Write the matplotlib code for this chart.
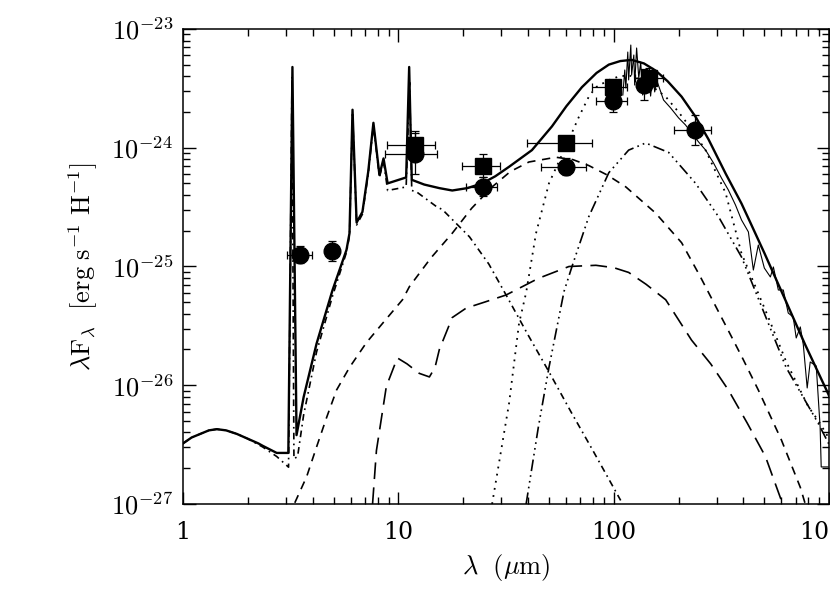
import matplotlib
matplotlib.use("Agg")
import matplotlib.pyplot as plt
import numpy as np

plt.rcParams['mathtext.fontset'] = 'cm'
plt.rcParams['font.family'] = 'serif'
plt.rcParams['font.serif'] = ['DejaVu Serif']

# all curves: log10(wavelength / um), log10(lambda F_lambda)
# total model (thick solid)
tot_lx = [0.0, 0.04, 0.08, 0.12, 0.157, 0.2, 0.25, 0.3, 0.35, 0.37, 0.435, 0.489, 0.508, 0.527,
          0.56, 0.62, 0.694, 0.759, 0.773, 0.787, 0.806, 0.833, 0.86, 0.884, 0.912, 0.931, 0.950,
          1.036, 1.050, 1.062, 1.12, 1.19, 1.25, 1.32, 1.389, 1.45, 1.514, 1.62, 1.713, 1.78,
          1.852, 1.92, 1.977, 2.03, 2.083, 2.14, 2.194, 2.25, 2.315, 2.38, 2.44, 2.52, 2.593,
          2.634, 2.70, 2.796, 2.889, 2.995, 3.05]
tot_ly = [-26.49, -26.44, -26.41, -26.38, -26.37, -26.38, -26.41, -26.45, -26.49, -26.51, -26.57,
          -26.57, -23.32, -26.42, -26.10, -25.65, -25.20, -24.86, -24.72, -23.68, -24.63, -24.54,
          -24.20, -23.79, -24.23, -24.09, -24.30, -24.25, -23.32, -24.27, -24.31, -24.34, -24.36,
          -24.34, -24.30, -24.24, -24.16, -24.02, -23.82, -23.65, -23.49, -23.37, -23.30, -23.27,
          -23.26, -23.29, -23.35, -23.44, -23.57, -23.74, -23.93, -24.22, -24.47, -24.63, -24.89,
          -25.28, -25.66, -26.07, -26.30]

# stars + small grains (dash-dot)
sg_lx = [0.0, 0.04, 0.08, 0.12, 0.157, 0.2, 0.25, 0.3, 0.35, 0.37, 0.435, 0.490, 0.506, 0.515,
         0.532, 0.56, 0.62, 0.694, 0.759, 0.773, 0.787, 0.806, 0.833, 0.86, 0.884, 0.912, 0.931,
         0.950, 1.036, 1.052, 1.062, 1.083, 1.18, 1.204, 1.33, 1.42, 1.5, 1.6, 1.7, 1.8, 1.9, 2.032]
sg_ly = [-26.49, -26.44, -26.41, -26.38, -26.37, -26.38, -26.41, -26.45, -26.50, -26.52, -26.60,
         -26.69, -23.40, -26.62, -26.60, -26.25, -25.72, -25.25, -24.88, -24.74, -23.70, -24.65,
         -24.56, -24.22, -23.81, -24.25, -24.11, -24.36, -24.33, -23.45, -24.36, -24.37, -24.50,
         -24.52, -24.75, -24.98, -25.24, -25.57, -25.89, -26.22, -26.54, -26.97]

# short dashed component
sd_lx = [0.519, 0.574, 0.620, 0.667, 0.713, 0.773, 0.852, 0.926, 1.019, 1.051, 1.15, 1.25,
         1.34, 1.435, 1.52, 1.606, 1.731, 1.81, 1.884, 1.97, 2.056, 2.194, 2.315, 2.40, 2.486,
         2.532, 2.60, 2.671, 2.778, 2.866, 2.889]
sd_ly = [-26.99, -26.77, -26.52, -26.27, -26.04, -25.85, -25.64, -25.48, -25.28, -25.17, -24.93,
         -24.72, -24.51, -24.33, -24.20, -24.12, -24.08, -24.10, -24.15, -24.23, -24.33, -24.55,
         -24.80, -25.08, -25.38, -25.54, -25.78, -26.04, -26.46, -26.86, -27.0]

# long dashed component
ld_lx = [0.88, 0.898, 0.944, 0.995, 1.04, 1.097, 1.144, 1.17, 1.19, 1.25, 1.315, 1.4, 1.5,
         1.65, 1.792, 1.917, 2.00, 2.069, 2.15, 2.241, 2.361, 2.45, 2.532, 2.62, 2.704, 2.778]
ld_ly = [-27.0, -26.55, -26.01, -25.77, -25.82, -25.90, -25.93, -25.85, -25.70, -25.43, -25.35,
         -25.30, -25.24, -25.10, -25.00, -24.99, -25.01, -25.05, -25.15, -25.28, -25.62, -25.82,
         -26.04, -26.32, -26.60, -26.97]

# dotted component
dt_lx = [1.435, 1.514, 1.56, 1.593, 1.639, 1.699, 1.792, 1.838, 1.884, 1.917, 1.977, 2.023,
         2.07, 2.13, 2.19, 2.241, 2.301, 2.36, 2.426, 2.519, 2.593, 2.718, 2.80, 2.903, 2.95, 3.0]
dt_ly = [-27.0, -26.15, -25.48, -25.22, -24.72, -24.30, -23.93, -23.74, -23.57, -23.49, -23.43,
         -23.40, -23.39, -23.43, -23.50, -23.57, -23.70, -23.84, -24.02, -24.38, -24.89, -25.43,
         -25.80, -26.18, -26.30, -26.45]

# dash-triple-dot component
dd_lx = [1.593, 1.65, 1.699, 1.769, 1.806, 1.884, 1.977, 2.069, 2.148, 2.255, 2.38, 2.486,
         2.593, 2.70, 2.80, 2.949, 3.0]
dd_ly = [-27.0, -26.35, -25.85, -25.21, -25.00, -24.58, -24.21, -24.02, -23.96, -24.04, -24.30,
         -24.58, -24.92, -25.40, -25.85, -26.32, -26.50]

# observed spectrum (thin solid)
sp_lx = [2.042, 2.051, 2.056, 2.065, 2.069, 2.079, 2.083, 2.093, 2.097, 2.106, 2.116, 2.125,
         2.134, 2.144, 2.153, 2.162, 2.171, 2.181, 2.190, 2.199, 2.231, 2.264, 2.301, 2.333,
         2.361, 2.394, 2.426, 2.463, 2.5, 2.532, 2.565, 2.593, 2.625, 2.648, 2.671, 2.699,
         2.727, 2.741, 2.764, 2.787, 2.81, 2.833, 2.847, 2.866, 2.88, 2.898, 2.912, 2.94,
         2.958, 2.963, 2.995]
sp_ly = [-23.556, -23.345, -23.497, -23.194, -23.429, -23.135, -23.387, -23.219, -23.472, -23.16,
         -23.413, -23.278, -23.556, -23.362, -23.497, -23.387, -23.565, -23.378, -23.53, -23.43,
         -23.598, -23.665, -23.749, -23.808, -23.876, -23.952, -24.019, -24.128, -24.255, -24.356,
         -24.482, -24.608, -24.709, -25.03, -24.819, -25.013, -25.088, -25.004, -25.198, -25.198,
         -25.392, -25.425, -25.602, -25.509, -25.66, -26.023, -25.804, -25.838, -26.352, -26.688,
         -26.688]

# photometry: circles
circ_wl = [3.48, 4.9, 11.9, 24.7, 60, 99, 138, 237]
circ_lf = [-24.90, -24.87, -24.05, -24.33, -24.16, -23.61, -23.47, -23.85]
circ_xlo = [3.03, 4.9, 8.7, 20.6, 45.9, 82.6, 138, 191]
circ_xhi = [3.96, 4.9, 15.1, 28.7, 74, 115, 138, 284]
circ_err = [0.07, 0.085, 0.17, 0.08, 0.07, 0.09, 0.13, 0.125]

# photometry: squares
sq_wl = [11.9, 24.7, 60, 99, 145]
sq_lf = [-23.98, -24.15, -23.96, -23.49, -23.41]
sq_xlo = [8.9, 19.8, 39.5, 79, 125]
sq_xhi = [14.8, 29.7, 79, 115, 170]
sq_err = [0.12, 0.10, 0.05, 0.06, 0.08]

fig = plt.figure(figsize=(8.3, 5.93), dpi=100)
ax = fig.add_axes([0.2205, 0.1501, 0.7785, 0.801])

def curve(lx, ly, **kw):
    l, = ax.plot(10 ** np.array(lx), 10 ** np.array(ly), color='black', **kw)
    return l

curve(sg_lx, sg_ly, lw=1.2, dashes=(4, 2.5, 1, 2.5))
curve(sd_lx, sd_ly, lw=1.2, dashes=(5, 4))
curve(ld_lx, ld_ly, lw=1.2, dashes=(10, 5))
curve(dt_lx, dt_ly, lw=1.3, dashes=(1, 3))
curve(dd_lx, dd_ly, lw=1.2, dashes=(7, 2.5, 1, 2.5, 1, 2.5, 1, 2.5))
curve(sp_lx, sp_ly, lw=0.8)
curve(tot_lx, tot_ly, lw=1.7)

def points(wl, lf, xlo, xhi, err, marker, ms):
    wl = np.array(wl, float)
    y = 10 ** np.array(lf)
    e = np.array(err)
    ylo = y - 10 ** (np.array(lf) - e)
    yhi = 10 ** (np.array(lf) + e) - y
    xl = wl - np.array(xlo)
    xh = np.array(xhi) - wl
    ax.errorbar(wl, y, xerr=[xl, xh], yerr=[ylo, yhi], fmt=marker, color='black',
                ms=ms, elinewidth=0.9, capsize=3, capthick=0.9)

points(sq_wl, sq_lf, sq_xlo, sq_xhi, sq_err, 's', 11)
points(circ_wl, circ_lf, circ_xlo, circ_xhi, circ_err, 'o', 12)

ax.set_xscale('log')
ax.set_yscale('log')
ax.set_xlim(1, 1000)
ax.set_ylim(1e-27, 1e-23)
ax.set_xticks([1, 10, 100, 1000])
ax.set_xticklabels(['1', '10', '100', '1000'])
ax.set_yticks([1e-27, 1e-26, 1e-25, 1e-24, 1e-23])
ax.set_yticklabels([r'$10^{-27}$', r'$10^{-26}$', r'$10^{-25}$', r'$10^{-24}$', r'$10^{-23}$'])
ax.tick_params(which='both', direction='in', top=True, right=True, width=1)
ax.tick_params(which='major', length=9)
ax.tick_params(which='minor', length=5)
ax.tick_params(axis='x', which='major', labelsize=17, pad=12)
ax.tick_params(axis='y', which='major', labelsize=19, pad=7)
for s in ax.spines.values():
    s.set_linewidth(1.1)

ax.set_xlabel(r'$\lambda\ \ (\mu{\rm m})$', fontsize=19, labelpad=6)
ax.set_ylabel(r'$\lambda{\rm F}_\lambda\ \ [{\rm erg\ s^{-1}\ H^{-1}}]$', fontsize=19, labelpad=8)

fig.savefig('out.png', dpi=100)
